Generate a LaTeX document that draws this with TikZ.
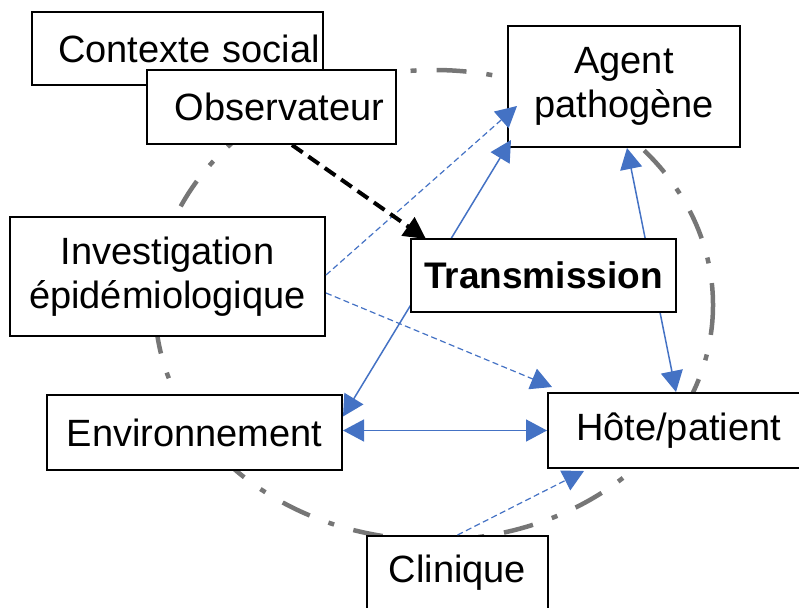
\documentclass[tikz,border=0pt]{standalone}
\usepackage{fontspec}
\setmainfont{Liberation Sans}
\usetikzlibrary{arrows.meta}
\definecolor{linkblue}{RGB}{68,114,196}
\definecolor{ringgray}{RGB}{118,118,118}

\begin{document}
\begin{tikzpicture}[x=1pt,y=-1pt,
    box/.style={draw, line width=2pt, fill=white, inner sep=0pt, align=center,
      font=\fontsize{38}{44.5}\selectfont},
    link/.style={linkblue, line width=1.5pt, -{Triangle[length=21pt,width=22pt]}},
    both/.style={link, {Triangle[length=21pt,width=22pt]}-{Triangle[length=21pt,width=22pt]}},
    hint/.style={link, line width=1.2pt, dash pattern=on 6pt off 3.5pt}]
    \useasboundingbox (0,0) rectangle (799,607);

    % the ring behind everything
    \draw[ringgray, line width=4.5pt, dash pattern=on 30pt off 20pt on 6pt off 20pt]
      (434,305) ellipse [x radius=279, y radius=235];

    \node[box, text width=285pt, inner xsep=3pt, minimum height=73pt, align=right] (ctx) at (177.5,48.5) {Contexte social};
    \node[box, text width=225pt, inner xsep=12pt, minimum height=74pt, align=right] (obs) at (271.5,107) {Observateur};
    \node[box, minimum width=232pt, minimum height=121pt] (agent) at (624,86.5) {Agent\\pathogène};
    \node[box, minimum width=315pt, minimum height=119pt] (inv) at (167.5,276.5) {Investigation\\épidémiologique};
    \node[box, minimum width=295pt, minimum height=75pt] (env) at (194.5,432.5) {Environnement};
    \node[box, minimum width=261pt, minimum height=75pt] (host) at (678.5,430.5) {Hôte/patient};
    \node[box, minimum width=181pt, minimum height=74pt] (clin) at (457.5,573) {Clinique};

    \draw[both] ([yshift=16pt]env.east) -- ([shift={(4pt,8pt)}]agent.south west);
    \draw[both] (env.east |- host.west) -- (host.west);
    \draw[both] ([xshift=3pt]agent.south) -- ([xshift=-2.5pt]host.north);
    \draw[hint] ([yshift=1.5pt]inv.east) -- ([shift={(10pt,-19.5pt)}]agent.west);
    \draw[hint] ([yshift=-16.5pt]inv.east) -- ([shift={(5pt,5pt)}]host.north west);
    \draw[hint] (clin.north) -- ([shift={(37pt,-2pt)}]host.south west);

    % on top of the links that cross it
    \node[box, minimum width=265pt, minimum height=73pt, font=\fontsize{37}{44.5}\selectfont\bfseries] (trans) at (543.5,275.5) {Transmission};
    \draw[line width=4pt, dash pattern=on 13pt off 7pt, -{Triangle[length=22pt,width=22pt]}]
      ([xshift=20.5pt]obs.south) -- ([shift={(16pt,-1pt)}]trans.north west);
  \end{tikzpicture}
\end{document}
